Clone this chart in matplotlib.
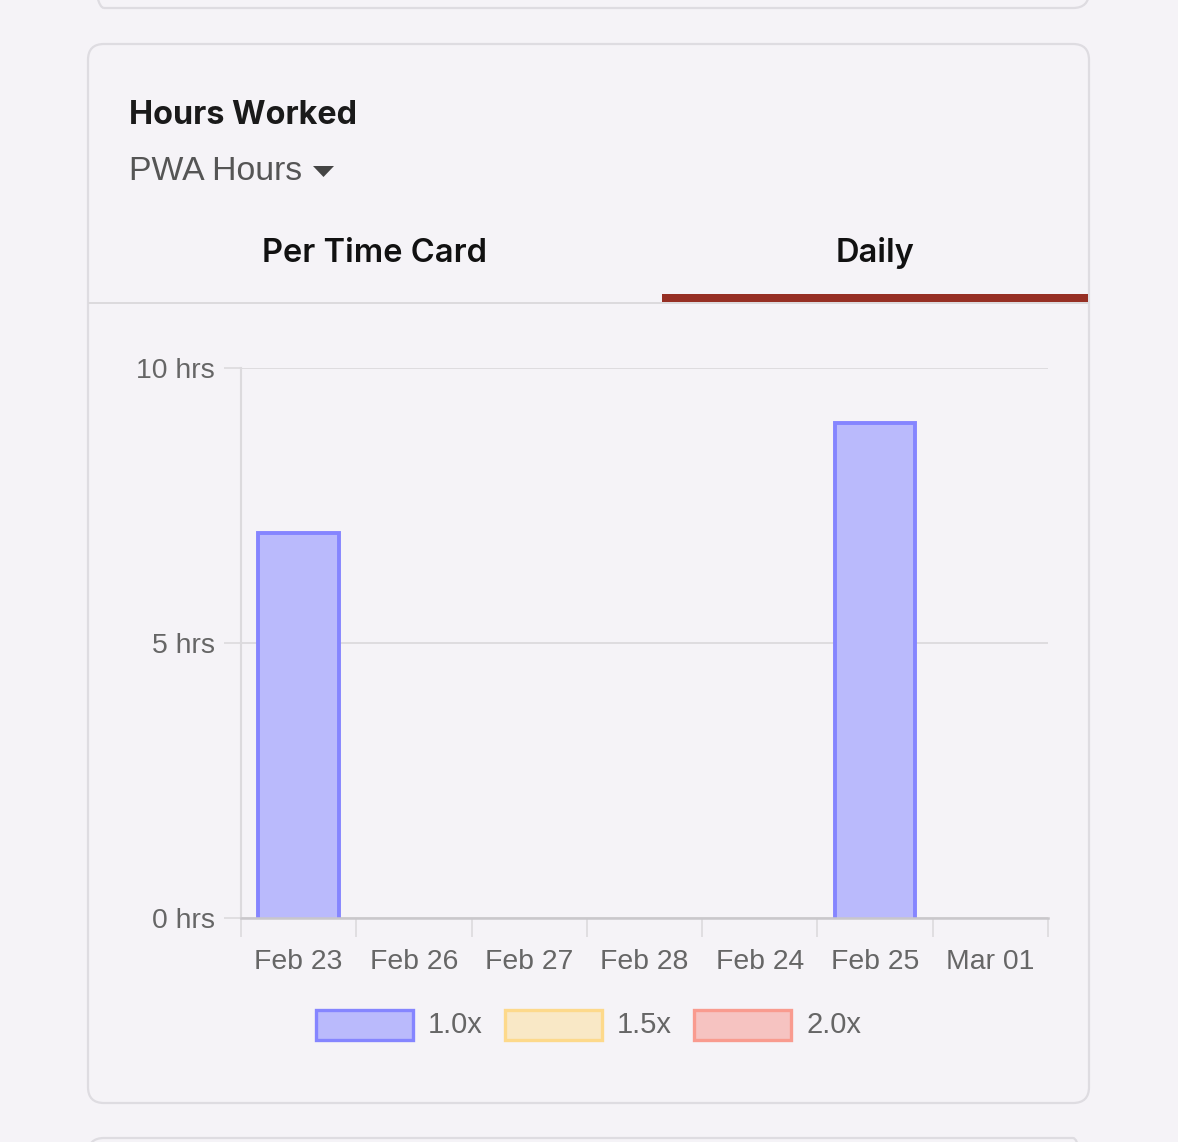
import numpy as np
import matplotlib
matplotlib.use("Agg")
import matplotlib.pyplot as plt
from matplotlib.patches import FancyBboxPatch, Rectangle, Polygon
from matplotlib.transforms import IdentityTransform

# data
days = ["Feb 23", "Feb 26", "Feb 27", "Feb 28", "Feb 24", "Feb 25", "Mar 01"]
hrs_1_0 = [7, 0, 0, 0, 0, 9, 0]
hrs_1_5 = [0, 0, 0, 0, 0, 0, 0]
hrs_2_0 = [0, 0, 0, 0, 0, 0, 0]
series_names = ["1.0x", "1.5x", "2.0x"]
y_ticks = [0, 5, 10]
tab_names = ["Per Time Card", "Daily"]

fills = ["#babafc", "#f9e8c6", "#f6c3c1"]
edges = ["#8585ff", "#fdd98b", "#f99b8f"]
bg = "#f5f3f7"

W, H = 1178, 1142
fig = plt.figure(figsize=(W / 100, H / 100), dpi=100, facecolor=bg)
px = IdentityTransform()


def Y(y):
    # top-origin pixel -> display coords
    return H - y


def card(x0, y0, x1, y1):
    p = FancyBboxPatch((x0, Y(y1)), x1 - x0, y1 - y0,
                       boxstyle="round,pad=0,rounding_size=16",
                       transform=px, facecolor="none", edgecolor="#dedce1",
                       linewidth=1.6, zorder=0)
    fig.patches.append(p)


card(88, -200, 1089, 8)
card(88, 44, 1089, 1103)
card(88, 1138, 1089, 1400)

# header
fig.text(129 / W, 1 - 115 / H, "Hours Worked", fontsize=23.3, fontweight="bold",
         family="Inter", color="#1a1a1a", va="center", ha="left")
fig.text(129 / W, 1 - 172 / H, "PWA Hours", fontsize=24.3,
         family="Liberation Sans", color="#555555", va="center", ha="left")
fig.patches.append(Polygon([(313, Y(166)), (334, Y(166)), (323.5, Y(177))],
                           closed=True, transform=px, facecolor="#444444",
                           edgecolor="none"))

# tabs
for name, cx in zip(tab_names, [375, 875]):
    fig.text(cx / W, 1 - 253 / H, name, fontsize=23.5, fontweight="semibold",
             family="Inter", color="#111111", va="center", ha="center")
fig.patches.append(Rectangle((88, Y(304)), 1000, 2, transform=px,
                             facecolor="#dcdadd", edgecolor="none"))
fig.patches.append(Rectangle((662, Y(302)), 426, 8, transform=px,
                             facecolor="#962f24", edgecolor="none"))

# chart
ax = fig.add_axes([241 / W, 224 / H, (1048 - 241) / W, (918 - 368) / H])
ax.set_facecolor("none")
x = np.arange(len(days))
bottom = np.zeros(len(days))
for vals, fc, ec in zip([hrs_1_0, hrs_1_5, hrs_2_0], fills, edges):
    vals = np.array(vals, dtype=float)
    mask = vals > 0
    bars = ax.bar(x[mask], vals[mask], width=0.70, bottom=bottom[mask],
                  color=fc, edgecolor="none", zorder=2)
    for b in bars:
        x0, x1 = b.get_x(), b.get_x() + b.get_width()
        y0, y1 = b.get_y(), b.get_y() + b.get_height()
        ax.plot([x0, x0, x1, x1], [y0, y1, y1, y0], color=ec, lw=2.8,
                solid_joinstyle="miter", zorder=3)
    bottom = bottom + vals

ax.set_xlim(-0.5, len(days) - 0.5)
ax.set_ylim(0, 10)
ax.set_yticks(y_ticks)
ax.set_yticklabels([f"{t} hrs" for t in y_ticks])
ax.set_xticks(x)
ax.set_xticklabels(days)
ax.set_xticks(np.arange(len(days) + 1) - 0.5, minor=True)
ax.grid(axis="y", color="#dcdadd", lw=1.3, zorder=1)
ax.set_axisbelow(True)

for s in ["top", "right"]:
    ax.spines[s].set_visible(False)
ax.spines["left"].set_color("#dcdadd")
ax.spines["left"].set_linewidth(1.5)
ax.spines["bottom"].set_color("#c9c7cb")
ax.spines["bottom"].set_linewidth(1.8)
ax.spines["bottom"].set_zorder(4)

ax.tick_params(axis="y", length=12, width=1.2, color="#dcdadd", pad=7,
               labelsize=20.4, labelcolor="#666666")
ax.tick_params(axis="x", which="major", length=0, pad=22,
               labelsize=20.4, labelcolor="#666666")
ax.tick_params(axis="x", which="minor", length=14, width=1.2, color="#dcdadd")
for lab in ax.get_xticklabels() + ax.get_yticklabels():
    lab.set_family("Liberation Sans")

# legend
lx = 316
for name, fc, ec in zip(series_names, fills, edges):
    fig.patches.append(Rectangle((lx, Y(1040)), 97, 30, transform=px,
                                 facecolor=fc, edgecolor=ec, linewidth=2.4))
    fig.text((lx + 112) / W, 1 - 1025 / H, name, fontsize=21,
             family="Liberation Sans", color="#666666", va="center", ha="left")
    lx += 189

fig.savefig("out.png", dpi=100, facecolor=bg)
